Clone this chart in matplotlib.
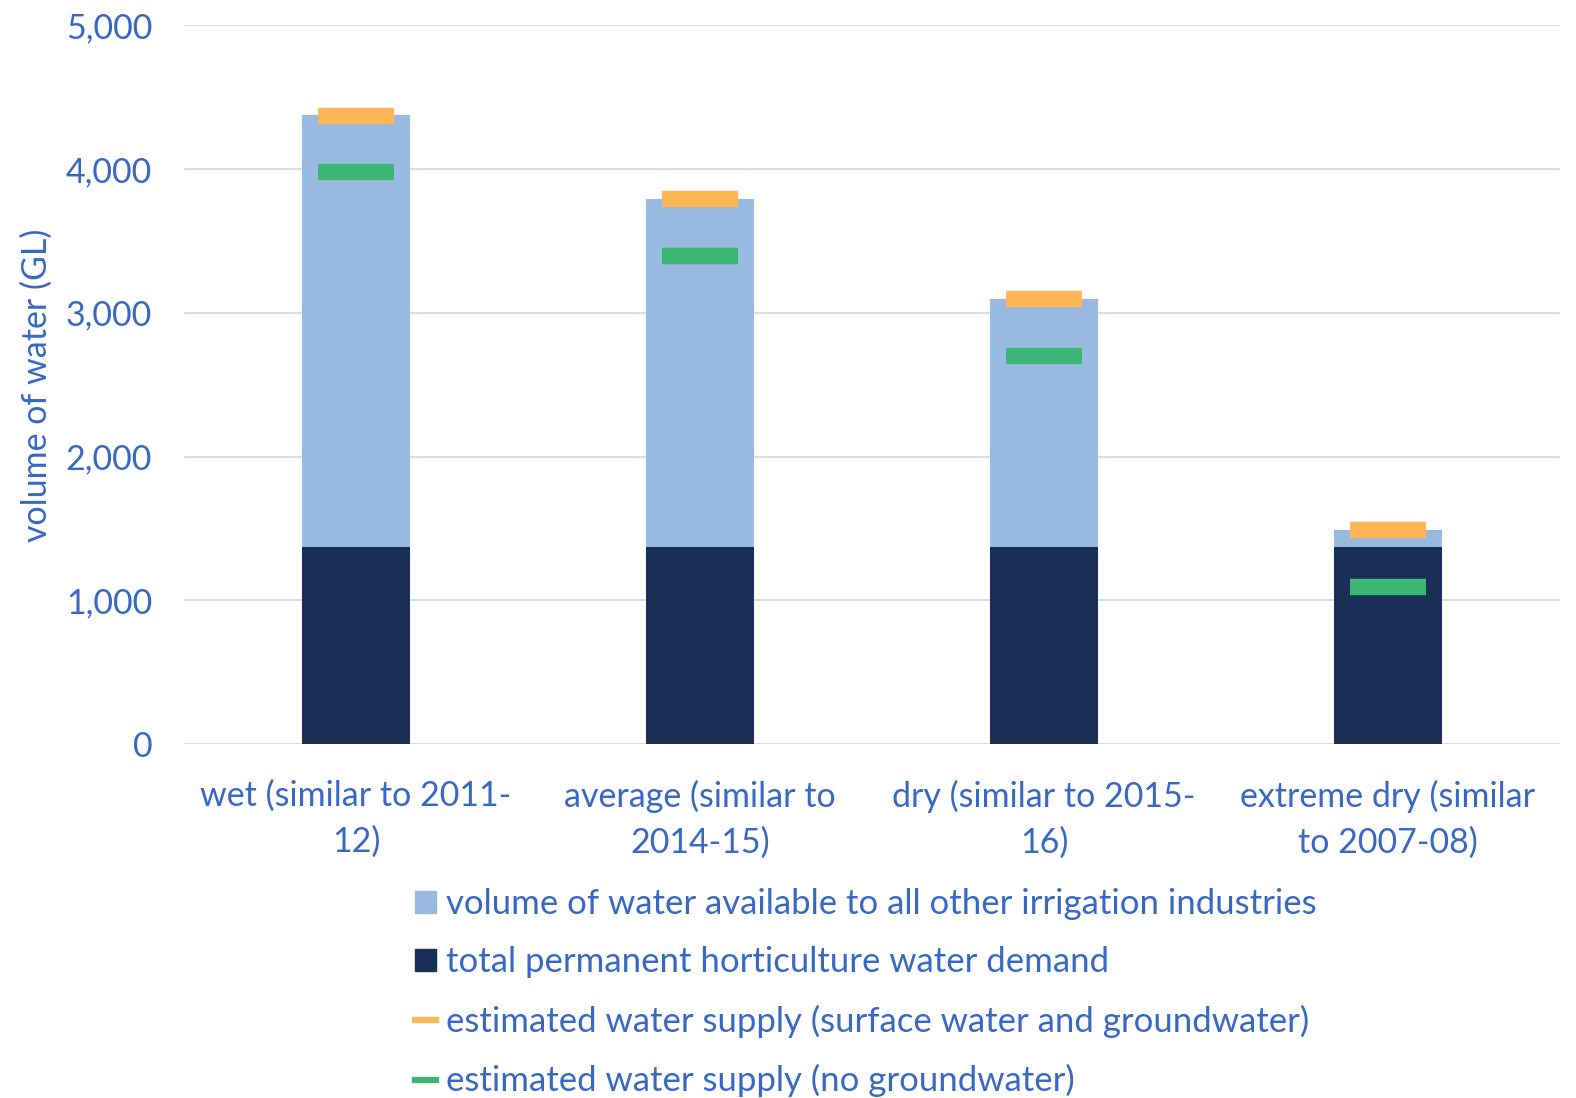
import matplotlib.pyplot as plt
from matplotlib.ticker import FuncFormatter
from matplotlib.patches import Patch
from matplotlib.lines import Line2D

# scenario categories
categories = ["wet (similar to 2011-\n12)", "average (similar to\n2014-15)",
              "dry (similar to 2015-\n16)", "extreme dry (similar\nto 2007-08)"]

# volumes in GL
horticulture_demand = [1370, 1370, 1370, 1370]
other_irrigation = [3003, 2419, 1724, 117]
supply_with_gw = [4372, 3789, 3094, 1487]
supply_no_gw = [3979, 3393, 2701, 1094]

text_col = "#3868C4"
c_light, c_navy, c_orange, c_green = "#98B9E0", "#1A2F56", "#FFB655", "#3DB874"
plt.rcParams['font.family'] = ['Lato', 'DejaVu Sans']

fig = plt.figure(figsize=(15.76, 10.98), dpi=100)
ax = fig.add_axes([0.1168, 0.3224, 0.873, 0.6546])

x = range(len(categories))
ax.bar(x, horticulture_demand, width=0.316, color=c_navy, zorder=2)
ax.bar(x, other_irrigation, width=0.316, bottom=horticulture_demand, color=c_light, zorder=2)
ax.plot(x, supply_with_gw, ls="none", marker="_", ms=54.5, mew=11.8, color=c_orange, zorder=3)
ax.plot(x, supply_no_gw, ls="none", marker="_", ms=54.5, mew=11.8, color=c_green, zorder=3)

ax.set_xlim(-0.5, 3.5)
ax.set_ylim(0, 5000)
ax.set_yticks([0, 1000, 2000, 3000, 4000, 5000])
ax.yaxis.set_major_formatter(FuncFormatter(lambda v, p: f"{int(v):,}"))
ax.grid(axis="y", color="#D6DFF0", lw=1.5, zorder=0)
ax.set_axisbelow(True)
for s in ax.spines.values():
    s.set_visible(False)
ax.set_xticks(list(x))
ax.set_xticklabels(categories, linespacing=1.5)
ax.tick_params(axis="both", length=0, labelsize=24.5, labelcolor=text_col)
ax.tick_params(axis="y", pad=23)
ax.tick_params(axis="x", pad=26)
fig.text(37 / 1576, 1 - 385 / 1098, "volume of water (GL)", rotation=90,
         ha="center", va="center", fontsize=24.5, color=text_col)

handles = [
    Patch(color=c_light),
    Patch(color=c_navy),
    Line2D([], [], color=c_orange, lw=4.5),
    Line2D([], [], color=c_green, lw=4.5),
]
labels = [
    "volume of water available to all other irrigation industries",
    "total permanent horticulture water demand",
    "estimated water supply (surface water and groundwater)",
    "estimated water supply (no groundwater)",
]
ax.legend(handles, labels, loc="upper left", bbox_to_anchor=(0.155, -0.176),
          frameon=False, fontsize=25, labelcolor=text_col, handlelength=0.6,
          handleheight=0.6, handletextpad=0.3, labelspacing=0.76, borderpad=0)

fig.savefig("out.png", dpi=100)
